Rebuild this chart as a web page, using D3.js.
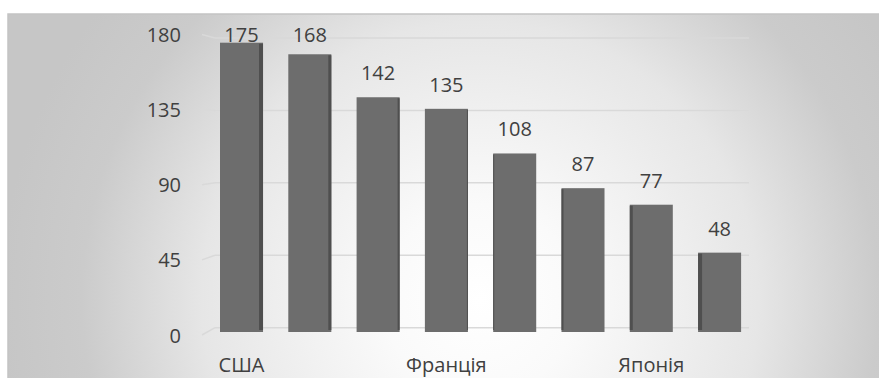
<!DOCTYPE html>
<html>
<head>
<meta charset="utf-8">
<script src="https://cdn.jsdelivr.net/npm/d3@7/dist/d3.min.js"></script>
<style>
  html, body { margin: 0; padding: 0; background: #ffffff; }
  svg { display: block; }
  text { font-family: "Open Sans", sans-serif; fill: #404040; }
</style>
</head>
<body>
<svg id="chart" width="879" height="378"></svg>
<script>
// ---- data ----
const categoryLabels = ["США", "", "", "Франція", "", "", "Японія", ""];
const values = [175, 168, 142, 135, 108, 87, 77, 48];
const yTicks = [0, 45, 90, 135, 180];

const W = 879, H = 378;
const svg = d3.select("#chart");

// background with radial gradient
const defs = svg.append("defs");
const grad = defs.append("radialGradient")
  .attr("id", "bg").attr("gradientUnits", "userSpaceOnUse")
  .attr("cx", 480).attr("cy", 300).attr("r", 480);
[[0, "#ffffff"], [0.2, "#fafafa"], [0.58, "#e6e6e6"], [0.83, "#cbcbcb"], [1, "#c6c6c6"]]
  .forEach(([o, c]) => grad.append("stop").attr("offset", o).attr("stop-color", c));

svg.append("rect").attr("x", 8).attr("y", 14).attr("width", W).attr("height", H)
  .attr("fill", "url(#bg)").attr("stroke", "#c4c4c4").attr("stroke-width", 1.5);

// scales
const idx = values.map((d, i) => i);
const x = d3.scaleBand().domain(idx).range([220, 741.1]).paddingInner(0.37).paddingOuter(0);
const yBar = d3.scaleLinear().domain([0, 175]).range([332, 42.7]);
const yWall = d3.scaleLinear().domain([0, 180]).range([327.7, 38]);
const yFront = d3.scaleLinear().domain([0, 180]).range([335, 34.5]);

// gridlines (back wall + side wall)
const grid = svg.append("g");
yTicks.forEach(v => {
  grid.append("line").attr("x1", 215).attr("x2", 749)
    .attr("y1", yWall(v)).attr("y2", yWall(v))
    .attr("stroke", "#d9d9d9").attr("stroke-width", 1.5);
  grid.append("line").attr("x1", 202).attr("x2", 215)
    .attr("y1", yFront(v)).attr("y2", yWall(v))
    .attr("stroke", "#d9d9d9").attr("stroke-width", 1.5);
});

// y axis labels
svg.append("g").selectAll("text").data(yTicks).join("text")
  .attr("x", 181).attr("y", d => yFront(d))
  .attr("text-anchor", "end").attr("dominant-baseline", "central")
  .attr("font-size", 20).text(d => d);

// bars
const center = 480;
const bars = svg.append("g");
values.forEach((v, i) => {
  const bx = x(i), bw = x.bandwidth();
  const cx = bx + bw / 2;
  const side = Math.round(Math.abs(cx - center) / 60);
  bars.append("rect").attr("x", bx).attr("y", yBar(v))
    .attr("width", bw).attr("height", yBar(0) - yBar(v))
    .attr("fill", "#6d6d6d");
  if (side > 0) {
    const sx = cx < center ? bx + bw - side : bx;
    bars.append("rect").attr("x", sx).attr("y", yBar(v) + 1)
      .attr("width", side).attr("height", yBar(0) - yBar(v) - 3)
      .attr("fill", "#4f4f4f");
  }
});

// value labels
svg.append("g").selectAll("text").data(values).join("text")
  .attr("x", (d, i) => x(i) + x.bandwidth() / 2)
  .attr("y", d => Math.max(yBar(d) - 17, 42))
  .attr("text-anchor", "middle").attr("font-size", 20)
  .text(d => d);

// category labels
svg.append("g").selectAll("text").data(categoryLabels).join("text")
  .attr("x", (d, i) => x(i) + x.bandwidth() / 2)
  .attr("y", 372)
  .attr("text-anchor", "middle").attr("font-size", 20)
  .text(d => d);
</script>
</body>
</html>
